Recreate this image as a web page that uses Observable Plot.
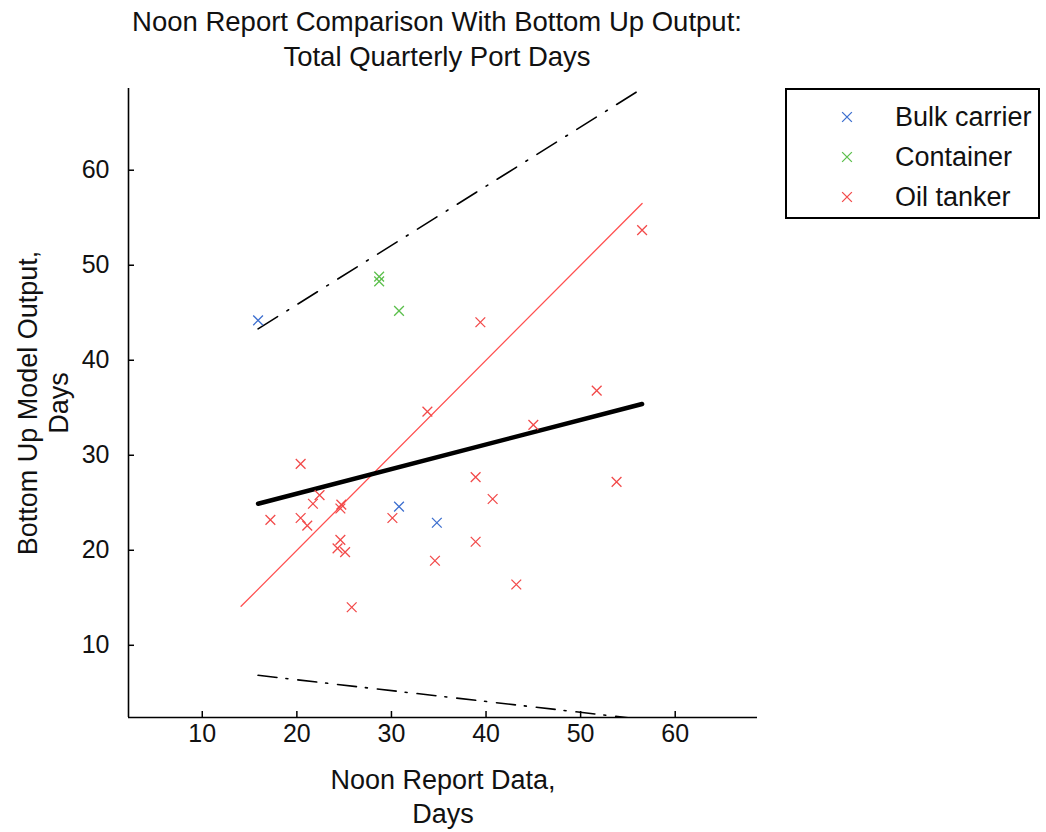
<!DOCTYPE html>
<html>
<head>
<meta charset="utf-8">
<script src="https://cdn.jsdelivr.net/npm/d3@7"></script>
<script src="https://cdn.jsdelivr.net/npm/@observablehq/plot@0.6"></script>
<style>
  html, body { margin: 0; padding: 0; background: #fff; }
  body { width: 1046px; height: 832px; position: relative; overflow: hidden;
         font-family: "Liberation Sans", Arial, sans-serif; color: #111; }
  #title { position: relative; height: 76px; box-sizing: border-box; padding-top: 4px;
           width: 874px; text-align: center; font-size: 27.5px; line-height: 35px; color: #111; }
  #chart svg { display: block; }
  #legend { position: absolute; left: 785px; top: 88px; width: 255px; height: 131px;
            box-sizing: border-box; border: 2px solid #000; background: #fff; }
  .lrow { position: absolute; left: 0; height: 40px; width: 100%; }
  .lrow svg { position: absolute; left: 50px; top: 10px; }
  .lrow span { position: absolute; left: 108px; top: 0; line-height: 40px; font-size: 27px; color: #111; white-space: nowrap; }
</style>
</head>
<body>
<div id="title">Noon Report Comparison With Bottom Up Output:<br>Total Quarterly Port Days</div>
<div id="chart"></div>
<div id="legend"></div>
<script>
// ---- data ----
const xDomain = [2.2, 68.7];
const yDomain = [2.4, 68.6];
const xTicks = [10, 20, 30, 40, 50, 60];
const yTicks = [10, 20, 30, 40, 50, 60];

const types = ["Bulk carrier", "Container", "Oil tanker"];
const typeColors = ["#3d6fcf", "#5cbf4c", "#f24a4a"];

const bulkX = [15.9, 30.8, 34.8];
const bulkY = [44.2, 24.6, 22.9];

const containerX = [28.7, 28.7, 30.8];
const containerY = [48.8, 48.3, 45.2];

const tankerX = [17.2, 20.4, 20.4, 21.1, 21.7, 22.4, 24.6, 24.7, 24.6, 24.3, 25.1, 25.8,
                 30.1, 33.8, 34.6, 38.9, 38.9, 39.4, 40.7, 43.2, 45.0, 51.7, 53.8, 56.5];
const tankerY = [23.2, 29.1, 23.4, 22.6, 24.9, 25.8, 24.4, 24.8, 21.1, 20.2, 19.8, 14.0,
                 23.4, 34.6, 18.9, 27.7, 20.9, 44.0, 25.4, 16.4, 33.2, 36.8, 27.2, 53.7];

// identity line y = x
const identityX = [14.1, 56.5];
// fitted line and its bounds
const fitX = [15.9, 56.5];
const fitY = [24.9, 35.4];
const upperY = [43.3, 68.6];
const lowerY = [6.84, 2.2];

const xLabel = "Noon Report Data,\nDays";
const yLabel = "Bottom Up Model Output,\nDays";

// ---- tables ----
const points = [
  ...bulkX.map((x, i) => ({type: types[0], x, y: bulkY[i]})),
  ...containerX.map((x, i) => ({type: types[1], x, y: containerY[i]})),
  ...tankerX.map((x, i) => ({type: types[2], x, y: tankerY[i]}))
];
const identity = identityX.map(v => ({x: v, y: v}));
const fit = fitX.map((x, i) => ({x, y: fitY[i]}));
const upper = fitX.map((x, i) => ({x, y: upperY[i]}));
const lower = fitX.map((x, i) => ({x, y: lowerY[i]}));

const W = 1046, H = 756, mT = 12, mB = 115, mL = 128, mR = 289;
const frameH = H - mT - mB;
const frameW = W - mL - mR;

const chart = Plot.plot({
  width: W, height: H,
  marginTop: mT, marginBottom: mB, marginLeft: mL, marginRight: mR,
  style: {fontFamily: "'Liberation Sans', Arial, sans-serif", color: "#111", background: "#fff"},
  x: {domain: xDomain, label: null},
  y: {domain: yDomain, label: null},
  color: {domain: types, range: typeColors},
  marks: [
    Plot.line(upper, {x: "x", y: "y", stroke: "#000", strokeWidth: 1.6, strokeDasharray: "23,11,2,11", clip: true}),
    Plot.line(lower, {x: "x", y: "y", stroke: "#000", strokeWidth: 1.6, strokeDasharray: "19,9,2,10", clip: true}),
    Plot.line(identity, {x: "x", y: "y", stroke: "#ff5050", strokeWidth: 1.3}),
    Plot.line(fit, {x: "x", y: "y", stroke: "#000", strokeWidth: 4.5}),
    Plot.dot(points, {x: "x", y: "y", stroke: "type", symbol: "times", r: 4.5, strokeWidth: 1.3}),
    Plot.ruleX([xDomain[0]], {stroke: "#000", strokeWidth: 1.6}),
    Plot.ruleY([yDomain[0]], {stroke: "#000", strokeWidth: 1.6}),
    Plot.tickX(xTicks, {x: d => d, insetTop: frameH - 6, stroke: "#000", strokeWidth: 1.5}),
    Plot.tickY(yTicks, {y: d => d, insetRight: frameW - 6, stroke: "#000", strokeWidth: 1.5}),
    Plot.axisX({ticks: xTicks, tickSize: 0, tickPadding: 7, fontSize: 25, tickFormat: d => String(d), label: null}),
    Plot.axisY({ticks: yTicks, tickSize: 0, tickPadding: 19, fontSize: 25, tickFormat: d => String(d), label: null}),
    Plot.text([xLabel], {frameAnchor: "bottom", dy: 78, lineAnchor: "middle", textAnchor: "middle", fontSize: 27, lineHeight: 1.26, fill: "#111"}),
    Plot.text([yLabel], {frameAnchor: "left", dx: -86, rotate: -90, lineAnchor: "middle", textAnchor: "middle", fontSize: 27, lineHeight: 1.15, fill: "#111"})
  ]
});
document.getElementById("chart").appendChild(chart);

// ---- legend ----
const legend = document.getElementById("legend");
const sym = d3.symbol(d3.symbolTimes, 4.5 * 4.5 * Math.PI);
types.forEach((t, i) => {
  const row = document.createElement("div");
  row.className = "lrow";
  row.style.top = (7 + i * 40) + "px";
  row.innerHTML = `<svg width="20" height="20"><path transform="translate(10,10)" d="${sym()}" fill="none" stroke="${typeColors[i]}" stroke-width="1.3"></path></svg><span>${t}</span>`;
  legend.appendChild(row);
});
</script>
</body>
</html>
